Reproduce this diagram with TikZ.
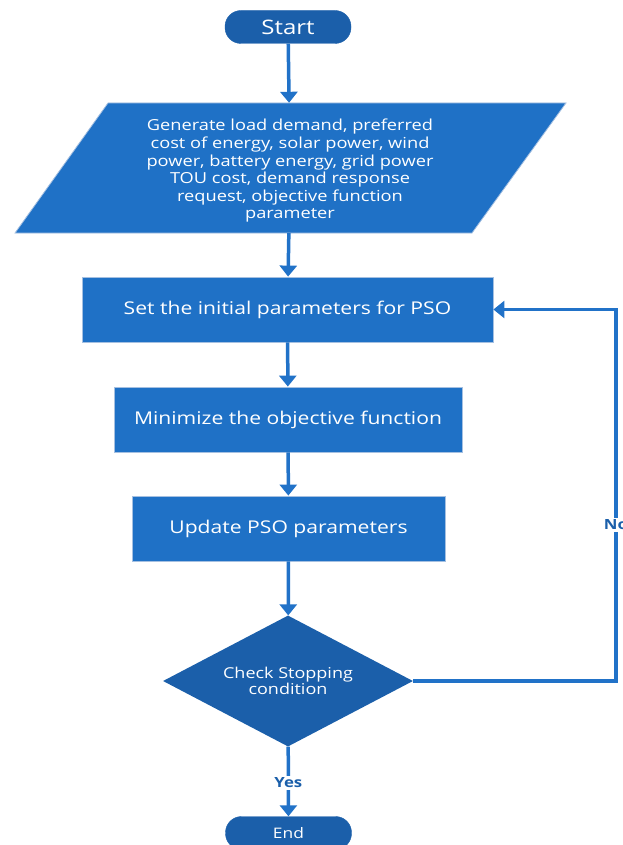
\documentclass[tikz,border=0pt]{standalone}
\usepackage{fontspec}
\setmainfont{Open Sans}[FakeStretch=1.2]
\usepackage{tikz}
\usetikzlibrary{arrows.meta,shapes.geometric}

\definecolor{boxblue}{RGB}{31,113,198}
\definecolor{darkblue}{RGB}{27,95,170}
\definecolor{lineblue}{RGB}{33,114,200}
\definecolor{edgeblue}{RGB}{165,192,225}

\tikzset{
  terminal/.style={fill=darkblue, draw=darkblue, rounded corners=16pt, minimum width=126pt, minimum height=33pt, text=white},
  process/.style={fill=boxblue, draw=edgeblue, line width=0.8pt, minimum height=65pt, text=white, font=\fontsize{17.6}{20}\selectfont},
  decision/.style={diamond, fill=darkblue, aspect=1.9, minimum width=250pt, minimum height=131pt, inner sep=0pt, text=white, align=center, font=\fontsize{15}{16.5}\selectfont},
  flow/.style={draw=lineblue, line width=3.5pt, -{Triangle[length=11pt,width=17pt]}},
  tag/.style={fill=white, text=darkblue, inner sep=2pt, font=\bfseries\fontsize{14}{16}\selectfont}
}

\begin{document}
\begin{tikzpicture}[x=1pt,y=-1pt]
\useasboundingbox (0,0) rectangle (622,845);

\node[terminal, font=\fontsize{20}{22}\selectfont] (start) at (288,27) {Start};

% input data
\fill[boxblue, draw=edgeblue, line width=0.8pt] (108,103) -- (566,103) -- (472,233) -- (15,233) -- cycle;
\node[text=white, align=center, font=\fontsize{15.2}{17.6}\selectfont] (text) at (290,171)
  {Generate load demand, preferred\\cost of energy, solar power, wind\\power, battery energy, grid power\\TOU cost, demand response\\request, objective function\\parameter};
\node[minimum width=458pt, minimum height=130pt] (input) at (290,168) {};

\node[process, minimum width=411pt] (init) at (287.5,309.5) {Set the initial parameters for PSO};
\node[process, minimum width=348pt] (minobj) at (288,419.5) {Minimize the objective function};
\node[process, minimum width=313pt] (update) at (288.5,528.5) {Update PSO parameters};
\node[decision] (check) at (288,681) {Check Stopping\\condition};
\node[terminal, font=\fontsize{14.5}{16}\selectfont] (stop) at (288.5,833) {End};
\coordinate (loop) at (616,0);

\draw[flow] (start) -- (input);
\draw[flow] (input) -- (init);
\draw[flow] (init) -- (minobj);
\draw[flow] (minobj) -- (update);
\draw[flow] (update) -- (check);
\draw[flow] (check) -- node[tag, pos=0.52] {Yes} (stop);
\draw[flow] (check.east) -- (check.east -| loop) |- node[tag, pos=0.21] {No} (init.east);
\end{tikzpicture}
\end{document}
